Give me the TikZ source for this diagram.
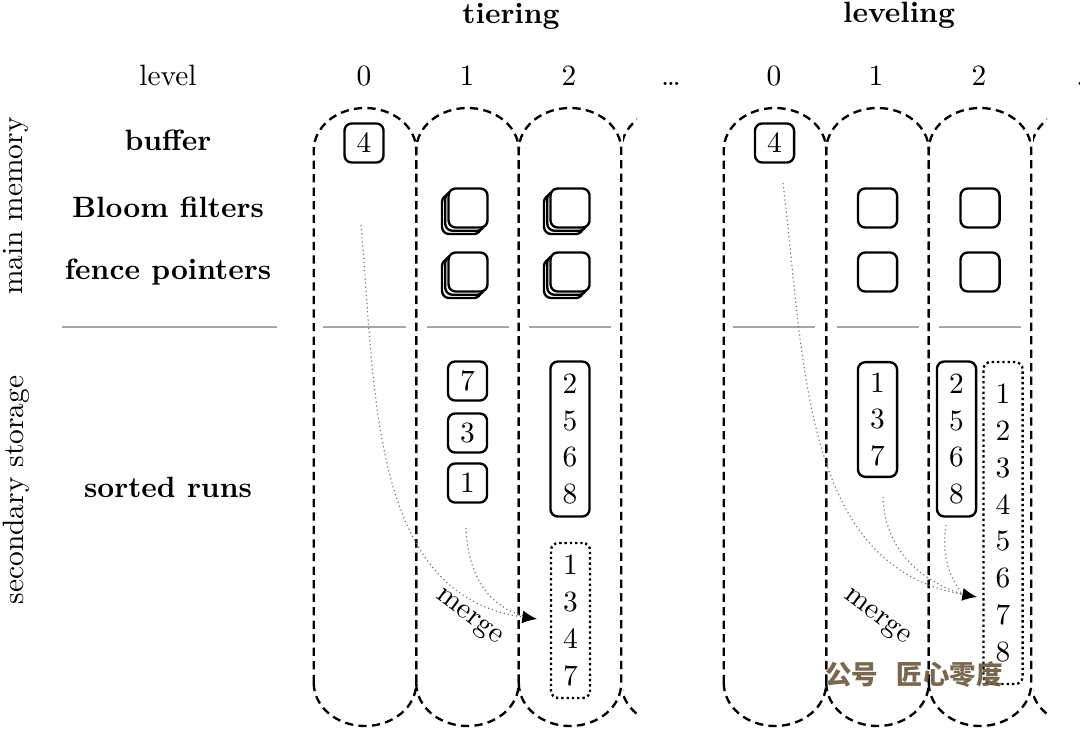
\documentclass[tikz,border=0pt]{standalone}
\usepackage{fontspec}
\newfontfamily\cjk{Noto Sans CJK SC}
\usepackage{tikz}
\usetikzlibrary{arrows.meta, positioning}
\definecolor{wmark}{RGB}{104,88,60}

\begin{document}
\begin{tikzpicture}[x=0.34pt, y=0.34pt,
    lane/.style={thick, dash pattern=on 2.8pt off 1.8pt},
    run/.style={draw, thick, rounded corners=2.5pt, fill=white, align=center, inner sep=0pt, minimum width=13.3pt, minimum height=13.3pt, font=\fontsize{10}{12.5}\selectfont},
    merged/.style={run, densely dotted},
    sep/.style={gray!70, line width=0.5pt},
    mflow/.style={black!55, densely dotted, thin},
    tip/.style={-{Latex[color=black, length=5pt, width=4.4pt]}},
    rowlabel/.style={font=\bfseries, anchor=base},
    lvl/.style={anchor=base}]
    \useasboundingbox (0,0) rectangle (1080,-729);

    % Headers and level numbers
    \node[rowlabel] (htier) at (511,-24) {tiering};
    \node[rowlabel] (hlev) at (899,-23) {leveling};
    \node[lvl] (level) at (168,-86) {level};
    \node[lvl] (t0) at (364,-86) {0};
    \node[lvl] (t1) at (467,-86) {1};
    \node[lvl] (t2) at (569,-86) {2};
    \node[lvl] (tdots) at (671,-86) {\ldots};
    \node[lvl] (l0) at (774,-86) {0};
    \node[lvl] (l1) at (876,-86) {1};
    \node[lvl] (l2) at (979,-86) {2};
    \node[lvl] (ldots) at (1086,-86) {\ldots};

    % Row labels
    \node[rotate=90] (mainmem) at (16,-206) {main memory};
    \node[rotate=90] (secstore) at (16,-490) {secondary storage};
    \node[rowlabel] (buffer) at (168,-150) {buffer};
    \node[rowlabel] (bloom) at (168,-217) {Bloom filters};
    \node[rowlabel] (fence) at (168,-279) {fence pointers};
    \node[rowlabel] (sorted) at (168,-497) {sorted runs};

    % Level lanes
    \draw[lane] (313.75,-683) -- (313.75,-150) arc[start angle=180, end angle=0, x radius=51.25, y radius=42] -- (416.25,-683) arc[start angle=0, end angle=-180, x radius=51.25, y radius=43] -- cycle;
    \draw[lane] (416.25,-683) -- (416.25,-150) arc[start angle=180, end angle=0, x radius=51.25, y radius=42] -- (518.75,-683) arc[start angle=0, end angle=-180, x radius=51.25, y radius=43] -- cycle;
    \draw[lane] (518.75,-683) -- (518.75,-150) arc[start angle=180, end angle=0, x radius=51.25, y radius=42] -- (621.25,-683) arc[start angle=0, end angle=-180, x radius=51.25, y radius=43] -- cycle;
    \draw[lane] (723.75,-683) -- (723.75,-150) arc[start angle=180, end angle=0, x radius=51.25, y radius=42] -- (826.25,-683) arc[start angle=0, end angle=-180, x radius=51.25, y radius=43] -- cycle;
    \draw[lane] (826.25,-683) -- (826.25,-150) arc[start angle=180, end angle=0, x radius=51.25, y radius=42] -- (928.75,-683) arc[start angle=0, end angle=-180, x radius=51.25, y radius=43] -- cycle;
    \draw[lane] (928.75,-683) -- (928.75,-150) arc[start angle=180, end angle=0, x radius=51.25, y radius=42] -- (1031.25,-683) arc[start angle=0, end angle=-180, x radius=51.25, y radius=43] -- cycle;
    \begin{scope}
        \clip (623,0) rectangle (637,-729) (1033,0) rectangle (1047,-729);
        \draw[lane] (621.25,-683) -- (621.25,-150) arc[start angle=180, end angle=0, x radius=51.25, y radius=42] -- (723.75,-683) arc[start angle=0, end angle=-180, x radius=51.25, y radius=43] -- cycle;
        \draw[lane] (1031.25,-683) -- (1031.25,-150) arc[start angle=180, end angle=0, x radius=51.25, y radius=42] -- (1133.75,-683) arc[start angle=0, end angle=-180, x radius=51.25, y radius=43] -- cycle;
    \end{scope}

    % Memory / storage divider
    \draw[sep] (62,-327) -- (277,-327);
    \draw[sep] (323,-327) -- (406,-327);
    \draw[sep] (427,-327) -- (509,-327);
    \draw[sep] (529,-327) -- (611,-327);
    \draw[sep] (733,-327) -- (815,-327);
    \draw[sep] (837,-327) -- (919,-327);
    \draw[sep] (939,-327) -- (1021,-327);

    % Tiering
    \node[run] (tbuf) at (364,-143) {4};
    \node[run] (tbf1c) at (461.5,-214.5) {};
    \node[run] (tbf1b) at (464.75,-211.25) {};
    \node[run] (tbf1) at (468,-208) {};
    \node[run] (tfp1c) at (461.5,-278.5) {};
    \node[run] (tfp1b) at (464.75,-275.25) {};
    \node[run] (tfp1) at (468,-272) {};
    \node[run] (tbf2c) at (563.5,-214.5) {};
    \node[run] (tbf2b) at (566.75,-211.25) {};
    \node[run] (tbf2) at (570,-208) {};
    \node[run] (tfp2c) at (563.5,-278.5) {};
    \node[run] (tfp2b) at (566.75,-275.25) {};
    \node[run] (tfp2) at (570,-272) {};
    \node[run] (tr7) at (467.5,-381) {7};
    \node[run] (tr3) at (467.5,-433) {3};
    \node[run] (tr1) at (467.5,-483) {1};
    \node[run, minimum height=52.7pt] (tr2568) at (570,-439) {2\\5\\6\\8};
    \node[merged, minimum height=52.7pt] (tm1347) at (570.5,-620.5) {1\\3\\4\\7};

    % Leveling
    \node[run] (lbuf) at (774.5,-143) {4};
    \node[run] (lbf1) at (877.5,-208) {};
    \node[run] (lbf2) at (980,-208) {};
    \node[run] (lfp1) at (877.5,-272) {};
    \node[run] (lfp2) at (980,-272) {};
    \node[run, minimum height=39pt] (lr137) at (877.5,-419.5) {1\\3\\7};
    \node[run, minimum height=52.7pt] (lr2568) at (956.5,-439) {2\\5\\6\\8};
    \node[merged, minimum height=109.5pt] (lm18) at (1003,-523) {1\\2\\3\\4\\5\\6\\7\\8};

    % Merge flows
    \coordinate (tsrc0) at (361,-225);
    \coordinate (tsrc1) at (466,-528);
    \coordinate (tjoin) at (524,-616);
    \coordinate (tend) at (537,-619);
    \draw[mflow] (tsrc1) to[out=-88, in=165] (tjoin);
    \draw[mflow, tip] (tsrc0) to[out=-85, in=172] (tend);
    \node[rotate=-37] (tmerge) at (468,-618) {merge};

    \coordinate (lsrc0) at (783,-183);
    \coordinate (lsrc1) at (883,-497);
    \coordinate (lsrc2) at (946,-525);
    \coordinate (ljoin) at (962,-594);
    \coordinate (lend) at (977,-597);
    \draw[mflow] (lsrc1) to[out=-88, in=162] (ljoin);
    \draw[mflow] (lsrc2) to[out=-98, in=125] (ljoin);
    \draw[mflow, tip] (lsrc0) to[out=-83, in=170] (lend);
    \node[rotate=-37] (lmerge) at (876,-618) {merge};

    % Watermark
    \node[text=wmark, opacity=0.9, font=\cjk\bfseries\fontsize{9}{11}\selectfont] (wmk) at (914,-675) {公号\hspace{0.7em}匠心零度};
\end{tikzpicture}
\end{document}
